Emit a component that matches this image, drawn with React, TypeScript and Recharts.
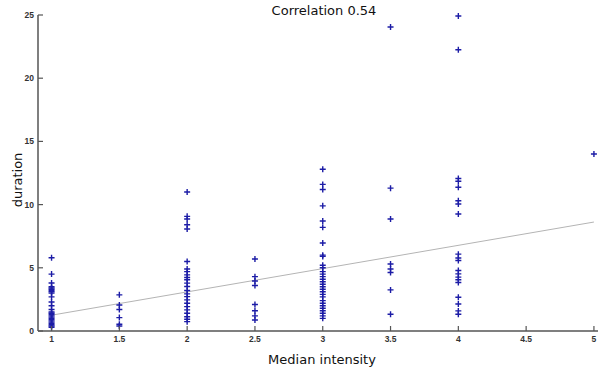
import React from 'react';
import { ScatterChart, Scatter, XAxis, YAxis } from 'recharts';

const xTicks = [1, 1.5, 2, 2.5, 3, 3.5, 4, 4.5, 5];
const yTicks = [0, 5, 10, 15, 20, 25];

const dur1 = [5.8, 4.5, 3.8, 3.5, 3.4, 3.3, 3.2, 3.1, 3.0, 2.7, 2.3, 2.0, 1.7, 1.5, 1.4, 1.3, 1.2, 1.1, 1.0, 0.9, 0.8, 0.7, 0.6, 0.5, 0.4, 0.3];
const dur15 = [2.86, 2.06, 1.7, 1.06, 0.53, 0.4];
const dur2 = [11.0, 9.07, 8.86, 8.4, 8.07, 5.5, 4.9, 4.7, 4.44, 4.23, 4.05, 3.79, 3.52, 3.2, 2.94, 2.72, 2.46, 2.2, 1.93, 1.67, 1.4, 1.13, 0.93, 0.74];
const dur25 = [5.7, 4.3, 3.95, 3.6, 2.1, 1.6, 1.2, 0.87];
const dur3 = [12.8, 11.6, 11.2, 9.9, 8.7, 8.2, 6.96, 6.0, 5.9, 5.2, 5.0, 4.7, 4.5, 4.3, 4.1, 3.9, 3.7, 3.5, 3.3, 3.1, 2.9, 2.7, 2.4, 2.2, 2.0, 1.8, 1.6, 1.4, 1.2, 1.0];
const dur35 = [24.05, 11.3, 8.86, 5.3, 4.9, 4.63, 3.25, 1.32];
const dur4 = [24.92, 22.25, 12.06, 11.85, 11.37, 10.3, 10.05, 9.26, 6.08, 5.77, 5.58, 4.79, 4.52, 4.26, 4.05, 3.84, 2.67, 2.14, 1.59, 1.32];
const dur5 = [14.0];

const groups: [number, number[]][] = [
  [1, dur1], [1.5, dur15], [2, dur2], [2.5, dur25], [3, dur3], [3.5, dur35], [4, dur4], [5, dur5],
];

const points = groups.flatMap(([x, ys]) => ys.map((y) => ({ x, y })));

const trendX = [1, 5];
const trendY = [1.25, 8.62];
const trend = trendX.map((x, i) => ({ x, y: trendY[i] }));

const AXIS = '#555';
const MARK = '#1c1ca6';
const TICKFONT = { fontFamily: 'Liberation Sans, Arial, sans-serif', fontSize: 8.5, fontWeight: 700, fill: '#333' } as const;

const Plus = (props: any) => {
  const { cx, cy } = props;
  if (cx == null || cy == null) return null;
  return <path d={`M${cx - 3},${cy}h6M${cx},${cy - 3}v6`} stroke={MARK} strokeWidth={1.4} fill="none" />;
};

const XTick = (props: any) => {
  const { x, y, payload } = props;
  return (
    <g>
      <line x1={x} y1={y} x2={x} y2={y - 5} stroke={AXIS} strokeWidth={1.2} />
      <text x={x} y={y + 11} textAnchor="middle" {...TICKFONT}>{payload.value}</text>
    </g>
  );
};

const YTick = (props: any) => {
  const { x, y, payload } = props;
  return (
    <g>
      <line x1={x} y1={y} x2={x + 5} y2={y} stroke={AXIS} strokeWidth={1.2} />
      <text x={x - 4} y={y + 3} textAnchor="end" {...TICKFONT}>{payload.value}</text>
    </g>
  );
};

const labelFont = { fontFamily: 'DejaVu Sans, sans-serif', fontSize: 13, fill: '#111' };

export default function App() {
  return (
    <div style={{ position: 'absolute', left: 0, top: 0, width: 600, height: 370, background: '#fff' }}>
      <div style={{ position: 'absolute', left: 0, top: 3, width: 648, textAlign: 'center', ...labelFont, color: '#111', lineHeight: '16px' }}>
        Correlation 0.54
      </div>
      <ScatterChart width={600} height={370} margin={{ top: 15, right: 2, bottom: 0, left: 0 }}>
        <XAxis
          type="number"
          dataKey="x"
          domain={[0.9, 5.03]}
          ticks={xTicks}
          height={39}
          tickSize={0}
          tickMargin={0}
          tickLine={false}
          axisLine={{ stroke: AXIS, strokeWidth: 1.5 }}
          tick={<XTick />}
          interval={0}
          label={{
            content: () => (
              <text x={322} y={364} textAnchor="middle" {...labelFont}>Median intensity</text>
            ),
          }}
        />
        <YAxis
          type="number"
          dataKey="y"
          domain={[0, 25]}
          ticks={yTicks}
          width={38}
          tickSize={0}
          tickMargin={0}
          tickLine={false}
          axisLine={{ stroke: AXIS, strokeWidth: 1.5 }}
          tick={<YTick />}
          interval={0}
          label={{
            content: () => (
              <text x={22} y={180} textAnchor="middle" transform="rotate(-90 22 180)" {...labelFont}>duration</text>
            ),
          }}
        />
        <Scatter data={trend} line={{ stroke: '#b4b4b4', strokeWidth: 1 }} shape={() => null} isAnimationActive={false} />
        <Scatter data={points} shape={<Plus />} isAnimationActive={false} />
      </ScatterChart>
    </div>
  );
}
